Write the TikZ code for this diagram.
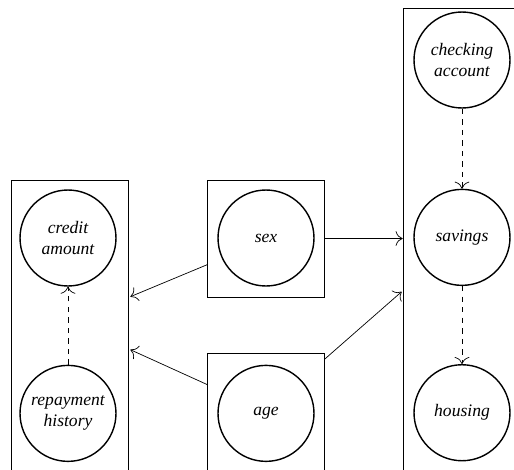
\documentclass[tikz,border=0pt]{standalone}
\usepackage{fontspec}
\setmainfont{Liberation Serif}
\usetikzlibrary{arrows.meta, positioning, calc}

\begin{document}
\begin{tikzpicture}[
        x=0.02cm, y=-0.02cm,
        node distance=1.56cm,
        var/.style={circle, draw=black, thick, minimum size=1.92cm, inner sep=0pt, align=center, font=\itshape},
        grp/.style={rectangle, draw=black, inner sep=0pt},
        arr/.style={-{To[length=1.4mm]}},
        dep/.style={-{To[length=1.4mm]}, dashed}
    ]
    \clip (0,0) rectangle (514,470);

    % Groups
    \node[grp, minimum width=2.34cm, minimum height=6.8cm] (leftbox) at (69.5,350) {};
    \node[grp, minimum width=2.34cm, minimum height=2.34cm] (sexbox) at (266,238.5) {};
    \node[grp, minimum width=2.34cm, minimum height=2.36cm] (agebox) at (266,412) {};
    \node[grp, minimum width=2.54cm, minimum height=10.24cm] (rightbox) at (466.5,264) {};

    % Variables
    \node[var] (credit) at (68,238) {credit\\amount};
    \node[var, below=of credit] (repay) {repayment\\history};
    \node[var] (sex) at (266,238) {sex};
    \node[var, below=of sex] (age) {age};
    \node[var] (checking) at (462,60) {checking\\account};
    \node[var, below=1.6cm of checking] (savings) {savings};
    \node[var, below=of savings] (housing) {housing};

    \draw[dep] (repay) -- (credit);
    \draw[dep] (checking) -- (savings);
    \draw[dep] (savings) -- (housing);

    % Between groups
    \draw[arr] (sexbox.east) -- (sexbox.east -| rightbox.west);
    \draw[arr] (sexbox.204) -- ($(leftbox.north east)+(2,117)$);
    \draw[arr] (agebox.155) -- ($(leftbox.north east)+(2,170)$);
    \draw[arr] (agebox.42) -- ($(rightbox.north west)+(-1,284)$);
\end{tikzpicture}
\end{document}
